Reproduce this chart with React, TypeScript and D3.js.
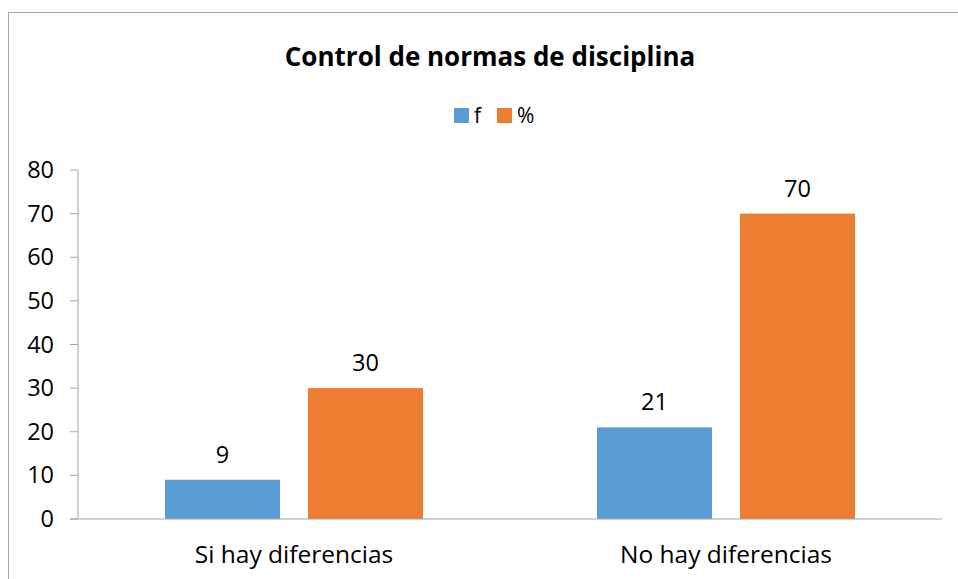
import React from "react";
import * as d3 from "d3";

const categories = ["Si hay diferencias", "No hay diferencias"];
const seriesNames = ["f", "%"];
const fValues = [9, 21];
const pctValues = [30, 70];
const yTicks = [0, 10, 20, 30, 40, 50, 60, 70, 80];
const colors = ["#5B9BD5", "#ED7D31"];

export default function App() {
  const W = 958, H = 579;
  const left = 78, right = 942, top = 170, bottom = 519;
  const y = d3.scaleLinear().domain([0, 80]).range([bottom, top]);
  const x0 = d3.scaleBand().domain(categories).range([left, right]).paddingInner(0).paddingOuter(0);
  const inner = d3.scaleBand().domain(seriesNames).range([87, x0.bandwidth() - 87]).paddingInner(0.196).paddingOuter(0);
  const font = "'Open Sans', sans-serif";
  const series = [fValues, pctValues];
  return (
    <svg width={W} height={H} style={{ position: "absolute", left: 0, top: 0 }} fontFamily={font}>
      <rect x={8.5} y={12.5} width={W + 20} height={H + 20} fill="white" stroke="#a6a6a6" />
      <text x={490} y={66} textAnchor="middle" fontSize={26} fontWeight="bold" fill="#000">
        Control de normas de disciplina
      </text>
      {seriesNames.map((s, i) => (
        <g key={s} transform={`translate(${454 + i * 43},108)`}>
          <rect width={15} height={15} fill={colors[i]} />
          <text x={20} y={15} fontSize={21} fill="#000">{s}</text>
        </g>
      ))}
      {yTicks.map((t) => (
        <g key={t}>
          <line x1={70} x2={left} y1={y(t)} y2={y(t)} stroke="#a6a6a6" />
          <text x={54} y={y(t) + 8} textAnchor="end" fontSize={23.5} fill="#000">{t}</text>
        </g>
      ))}
      <line x1={left} x2={left} y1={top} y2={bottom} stroke="#a6a6a6" />
      {categories.map((c, ci) => (
        <g key={c}>
          {seriesNames.map((s, si) => {
            const v = series[si][ci];
            const bx = (x0(c) as number) + (inner(s) as number);
            return (
              <g key={s}>
                <rect x={bx} y={y(v)} width={inner.bandwidth()} height={bottom - y(v)} fill={colors[si]} />
                <text x={bx + inner.bandwidth() / 2} y={y(v) - 17} textAnchor="middle" fontSize={23.5} fill="#000">{v}</text>
              </g>
            );
          })}
          <text x={(x0(c) as number) + x0.bandwidth() / 2} y={563} textAnchor="middle" fontSize={24.5} fill="#000">{c}</text>
        </g>
      ))}
      <line x1={70} x2={right} y1={bottom} y2={bottom} stroke="#a6a6a6" />
    </svg>
  );
}
